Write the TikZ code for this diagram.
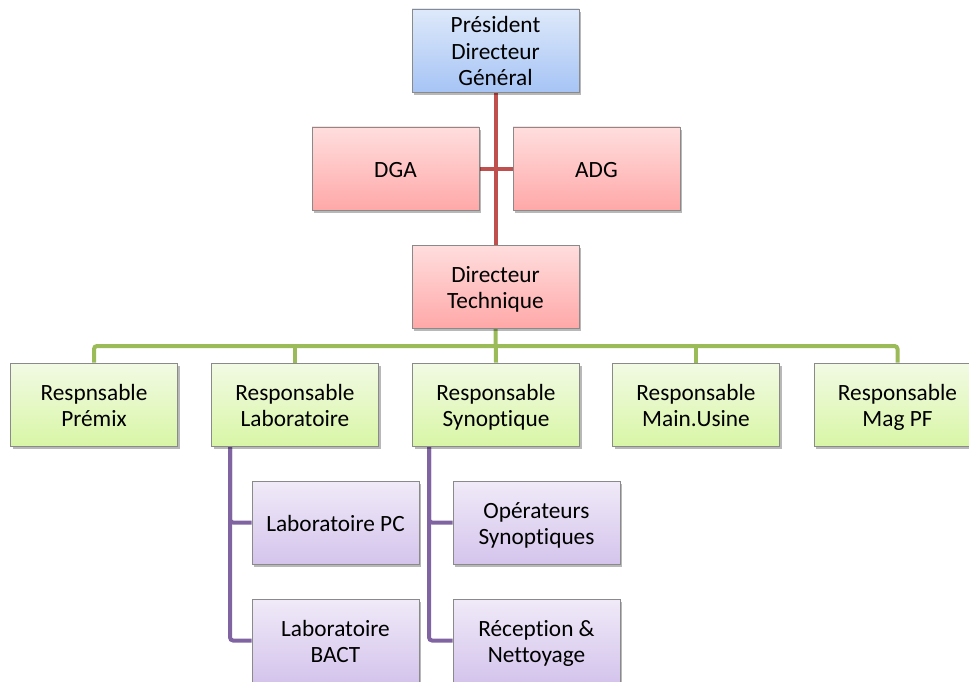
\documentclass[tikz,border=0pt]{standalone}
\usepackage{fontspec}
\setmainfont{Carlito}[Ligatures={NoCommon}]
\usetikzlibrary{shadows,backgrounds}

\definecolor{linkred}{HTML}{C0504D}
\definecolor{linkgreen}{HTML}{9BBB59}
\definecolor{linkpurple}{HTML}{8064A2}
\definecolor{boxedge}{HTML}{8A8A8A}

% one text line of a box, with a strut that keeps the letters centred
\newcommand{\bxline}[1]{\rule[-4.5pt]{0pt}{26.5pt}#1}

\tikzset{
  orgbox/.style={draw=boxedge, line width=0.9pt, minimum width=167pt, minimum height=83pt,
    align=center, inner xsep=2pt, inner ysep=1pt, font=\fontsize{23.3}{26.5}\selectfont,
    drop shadow={shadow xshift=2pt, shadow yshift=-3pt, opacity=0.28, fill=black}},
  topbox/.style={orgbox, top color={rgb,255:red,222;green,233;blue,250}, bottom color={rgb,255:red,166;green,196;blue,245}},
  redbox/.style={orgbox, top color={rgb,255:red,255;green,222;blue,222}, bottom color={rgb,255:red,255;green,168;blue,168}},
  greenbox/.style={orgbox, top color={rgb,255:red,242;green,250;blue,228}, bottom color={rgb,255:red,216;green,246;blue,166}},
  purplebox/.style={orgbox, top color={rgb,255:red,240;green,234;blue,248}, bottom color={rgb,255:red,212;green,196;blue,236}},
  redlink/.style={draw=linkred, line width=4pt},
  greenlink/.style={draw=linkgreen, line width=4pt, rounded corners=3pt},
  purplelink/.style={draw=linkpurple, line width=4pt, rounded corners=3pt}
}

\begin{document}
\begin{tikzpicture}[x=1pt,y=1pt]
  \useasboundingbox (0,0) rectangle (969,-682);

  % top management
  \node[topbox] (pdg) at (495.5,-50.5) {\bxline{Président}\\\bxline{Directeur}\\\bxline{Général}};
  \node[redbox] (dga) at (395.5,-168.5) {\bxline{DGA}};
  \node[redbox] (adg) at (596.5,-168.5) {\bxline{ADG}};
  \node[redbox] (dt)  at (495.5,-286.5) {\bxline{Directeur}\\\bxline{Technique}};

  % department heads
  \node[greenbox] (premix) at (94,-404.5)  {\bxline{Respnsable}\\\bxline{Prémix}};
  \node[greenbox] (labo)   at (295,-404.5) {\bxline{Responsable}\\\bxline{Laboratoire}};
  \node[greenbox] (synop)  at (496,-404.5) {\bxline{Responsable}\\\bxline{Synoptique}};
  \node[greenbox] (maint)  at (696,-404.5) {\bxline{Responsable}\\\bxline{Main.Usine}};
  \node[greenbox] (magpf)  at (897.5,-404.5) {\bxline{Responsable}\\\bxline{Mag PF}};

  % teams
  \node[purplebox] (labpc)  at (335.5,-522.5) {\bxline{Laboratoire PC}};
  \node[purplebox] (bact)   at (335.5,-640.5) {\bxline{Laboratoire}\\\bxline{BACT}};
  \node[purplebox] (oper)   at (536.5,-522.5) {\bxline{Opérateurs}\\\bxline{Synoptiques}};
  \node[purplebox] (recep)  at (536.5,-640.5) {\bxline{Réception \&}\\\bxline{Nettoyage}};

  \coordinate (bus) at (0,-346);

  \begin{pgfonlayer}{background}
    % red links
    \draw[redlink] (pdg.south) -- (dt.north);
    \draw[redlink] (dga.east) -- (adg.west);
    % green bus
    \draw[greenlink] (premix.north) -- (premix.north |- bus) -- (magpf.north |- bus) -- (magpf.north);
    \draw[greenlink] (labo.north) -- (labo.north |- bus);
    \draw[greenlink] (synop.north) -- (dt.south);
    \draw[greenlink] (maint.north) -- (maint.north |- bus);
    % purple links
    \draw[purplelink] ([xshift=19pt]labo.south west) |- (labpc.west);
    \draw[purplelink] ([xshift=19pt]labo.south west) |- (bact.west);
    \draw[purplelink] ([xshift=17pt]synop.south west) |- (oper.west);
    \draw[purplelink] ([xshift=17pt]synop.south west) |- (recep.west);
  \end{pgfonlayer}
\end{tikzpicture}
\end{document}
